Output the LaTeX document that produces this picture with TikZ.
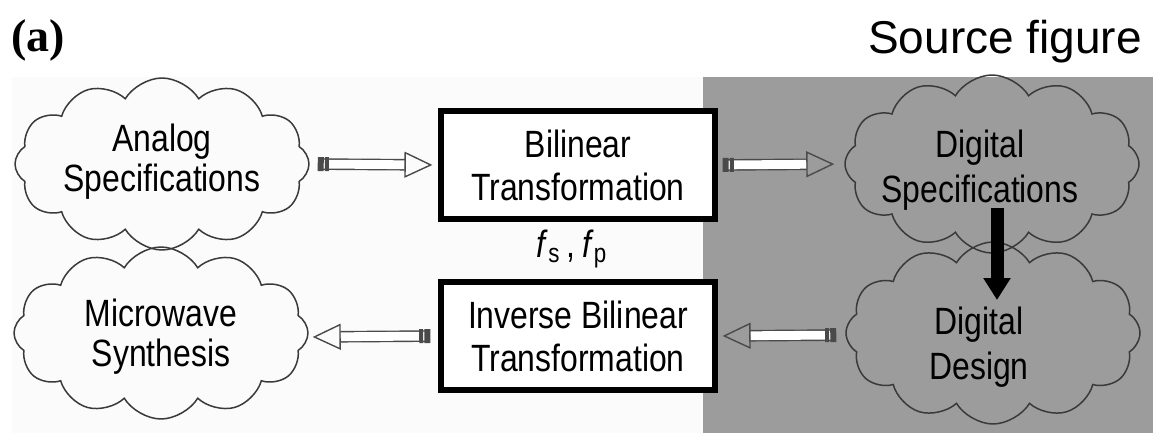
\documentclass[tikz,border=0pt]{standalone}
\usepackage{fontspec}
\setmainfont{Liberation Sans}
\newfontfamily\tagfont{Liberation Serif}
\newfontfamily\narrowsans[FakeStretch=0.84]{Liberation Sans}
\usetikzlibrary{arrows.meta,positioning,shapes.symbols}
\definecolor{PanelGray}{HTML}{9C9C9C}
\definecolor{LineDark}{HTML}{3A3A3A}
\definecolor{ArrowGray}{HTML}{4A4A4A}
\tikzset{
  cloudbox/.style={cloud,cloud puffs=12,cloud puff arc=118,cloud ignores aspect,draw=LineDark,line width=0.75pt,
    minimum width=147pt,minimum height=86pt,inner sep=0pt},
  cloudtext/.style={align=center,inner sep=0pt,font=\narrowsans\fontsize{19}{20}\selectfont},
  stagebox/.style={draw=black,line width=2.6pt,align=center,minimum width=137pt,minimum height=54pt,
    font=\narrowsans\fontsize{19}{21.5}\selectfont,fill=white},
  hollowarrow/.style={draw=ArrowGray,line width=0.7pt,double=white,double distance=4.4pt,
    {Rectangle[length=3pt,width=7pt,fill=ArrowGray] Rectangle[length=2pt,width=7pt,sep=0.6pt,fill=ArrowGray]}-{Triangle[open,length=14pt,width=13pt,line width=0.7pt]}},
  solidarrow/.style={draw=black,line width=6.5pt,-{Triangle[length=11pt,width=13pt]}}
}
\begin{document}
\begin{tikzpicture}[x=0.5pt,y=-0.5pt]
\useasboundingbox (0,0) rectangle (1163,433);
% analog side is barely tinted, digital side shaded
\fill[black!1.5] (12,77) rectangle (703,433);
\fill[PanelGray] (703,77) rectangle (1153,433);
\node[font=\tagfont\bfseries\fontsize{23}{26}\selectfont] (tag) at (38,40) {(a)};
\node[font=\fontsize{23}{26}\selectfont] (src) at (1005,42) {Source figure};
% clouds
\node[cloudbox] (ana) at (162,164) {};
\node[cloudtext] (anat) at ([yshift=1pt]ana.center) {Analog\\Specifications};
\node[cloudbox] (mws) at (161,333) {};
\node[cloudtext] (mwst) at ([yshift=-2pt]mws.center) {Microwave\\Synthesis};
\node[cloudbox,minimum height=89pt] (dspec) at (992,164) {};
\node[cloudtext,font=\narrowsans\fontsize{19}{22.5}\selectfont] (dspect) at ([yshift=-3pt,xshift=-6pt]dspec.center) {Digital\\Specifications};
\node[cloudbox,minimum height=91pt] (ddes) at (993,333) {};
\node[cloudtext,font=\narrowsans\fontsize{19}{22.5}\selectfont] (ddest) at ([yshift=-7pt,xshift=-7pt]ddes.center) {Digital\\Design};
% transformation boxes
\node[stagebox] (bil) at (578,165) {Bilinear\\Transformation};
\node[stagebox] (ibil) at (578,336) {Inverse Bilinear\\Transformation};
\node[font=\narrowsans\fontsize{19}{20}\selectfont] (fsfp) at (572,249) {\textit{f}\textsubscript{s}\,,\,\textit{f}\textsubscript{p}};
% connectors
\draw[hollowarrow,shorten <=4pt,shorten >=3pt] (ana.east) -- (bil.west);
\draw[hollowarrow,shorten <=2.5pt,shorten >=5pt] (bil.east) -- (dspec.west);
\draw[hollowarrow,shorten <=4.5pt,shorten >=2.5pt] ([yshift=-1pt]ddes.west) -- (ibil.east);
\draw[hollowarrow,shorten <=4pt,shorten >=2pt] (ibil.west) -- ([yshift=-2pt]mws.east);
\coordinate (dtop) at (997,208);
\coordinate (dbot) at (997,300);
\draw[solidarrow] (dtop) -- (dbot);
\end{tikzpicture}
\end{document}
